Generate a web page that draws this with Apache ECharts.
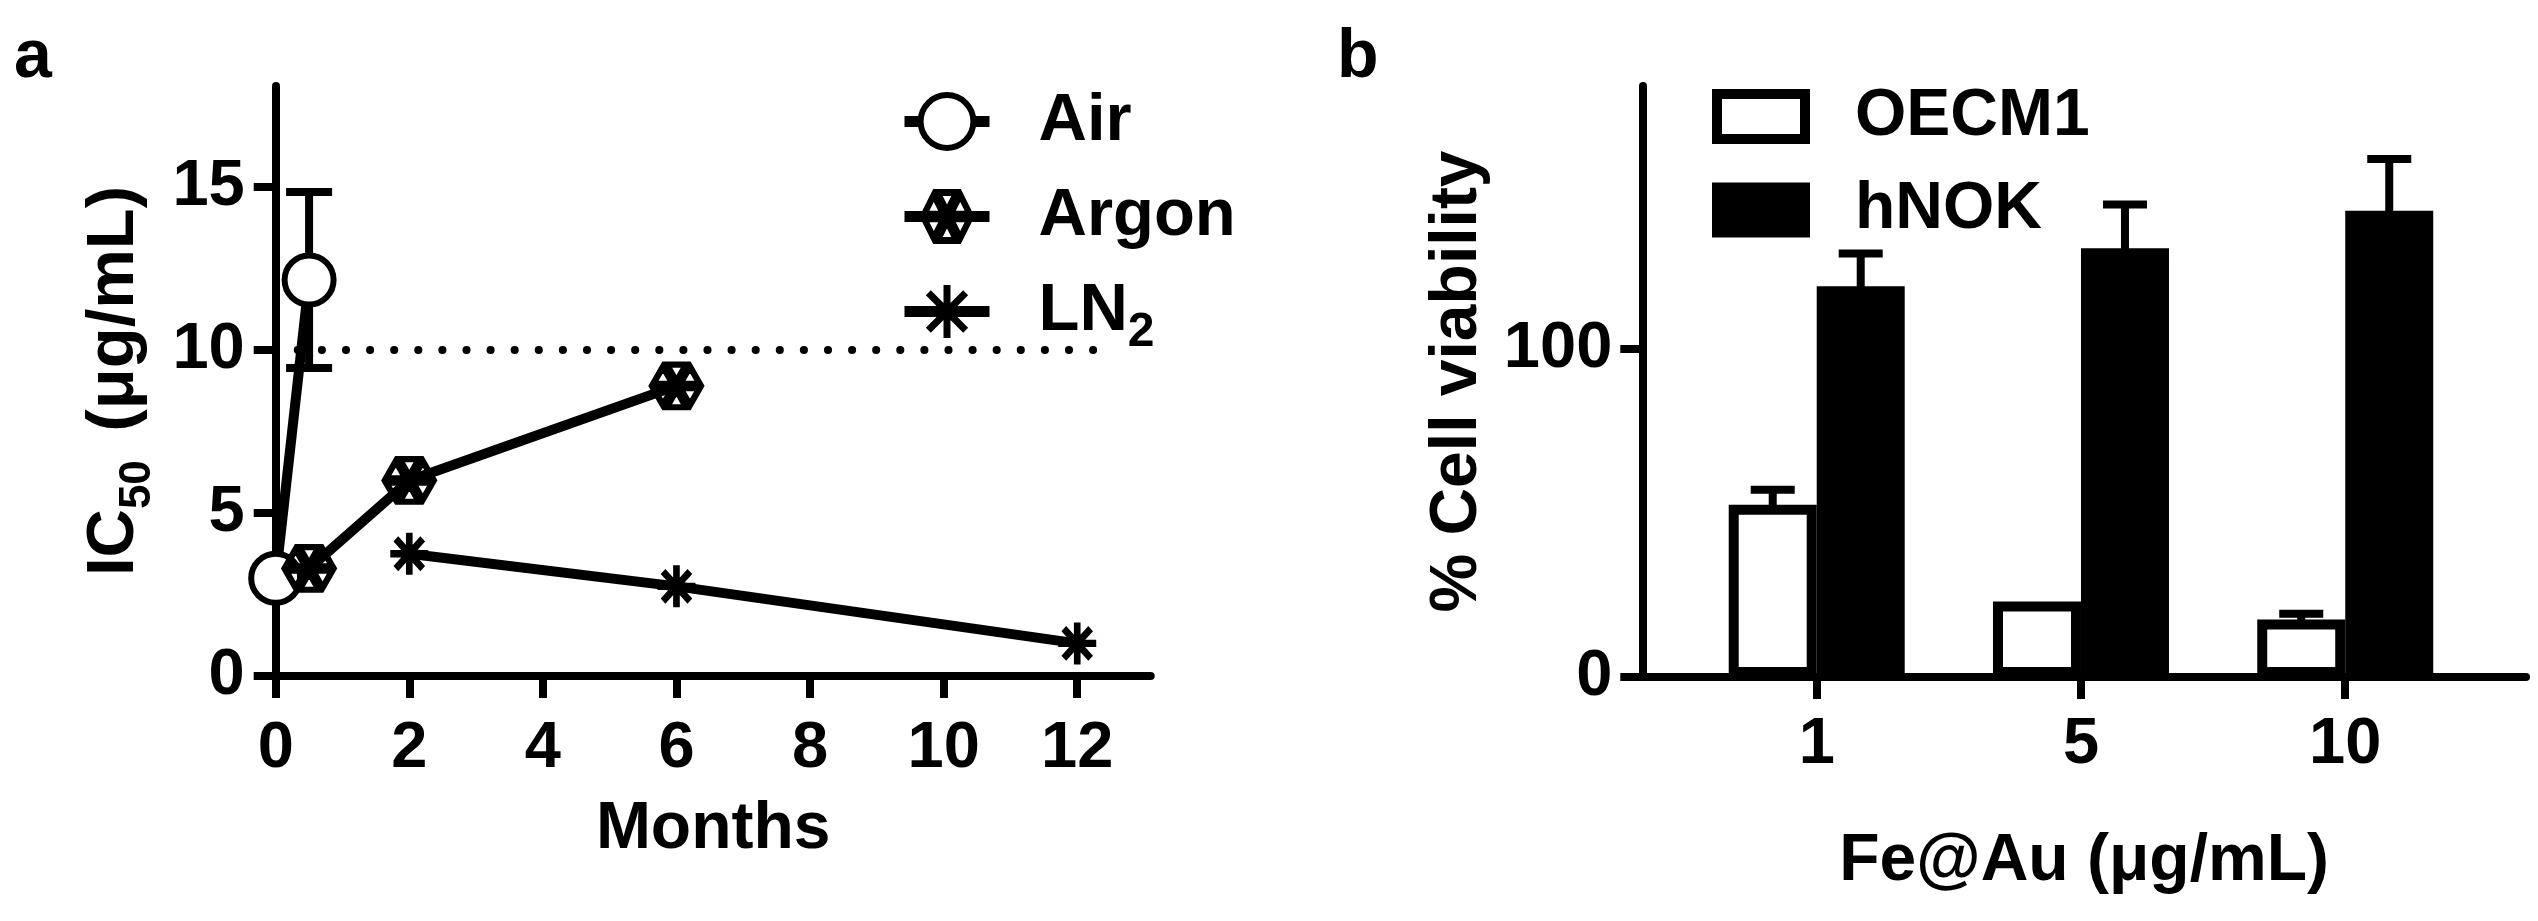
<!DOCTYPE html>
<html>
<head>
<meta charset="utf-8">
<script src="https://cdn.jsdelivr.net/npm/echarts@6.0.0/dist/echarts.min.js"></script>
<style>
html, body { margin: 0; padding: 0; background: #fff; }
#main { width: 2538px; height: 921px; }
</style>
</head>
<body>
<div id="main"></div>
<script>
// panel a - IC50 vs storage time
var airMonths = [0, 0.5];
var airIC50 = [3.0, 12.15];
var airErr = [0, 2.7];
var argonMonths = [0.5, 2, 6];
var argonIC50 = [3.3, 6.0, 8.9];
var ln2Months = [2, 6, 12];
var ln2IC50 = [3.75, 2.75, 1.0];
var thresholdIC50 = 10;
var thresholdSpan = [0.33, 12.57];
var monthTicks = [0, 2, 4, 6, 8, 10, 12];
var ic50Ticks = [0, 5, 10, 15];

// panel b - cell viability
var doses = ['1', '5', '10'];
var oecm1 = [52.5, 23, 17.5];
var oecm1Err = [4.5, 0, 1.8];
var hnok = [119, 130.6, 142];
var hnokErr = [10, 13.3, 15.8];
var viabilityTicks = [0, 100];

var FONT = 'Liberation Sans, Arial, sans-serif';
var BAR_W = 88;
var doseIdx = doses.map(function (d, i) { return i; });

function pairs(xs, ys) {
    return xs.map(function (x, i) { return [x, ys[i]]; });
}
function errRows(xs, ys, es) {
    var out = [];
    xs.forEach(function (x, i) { if (es[i] > 0) out.push([x, ys[i], es[i]]); });
    return out;
}

// hexagon with six small white triangles (Prism style marker)
function hexSymbol() {
    var pts = [], k, d, s = 0.45;
    for (k = 0; k < 6; k++) {
        var a = Math.PI / 3 * k;
        pts.push([10 * Math.cos(a), 10 * Math.sin(a)]);
    }
    function seg(list) {
        return 'M' + list.map(function (p) { return p[0].toFixed(3) + ',' + p[1].toFixed(3); }).join('L') + 'Z';
    }
    d = seg(pts);
    for (k = 0; k < 6; k++) {
        var p1 = pts[k], p2 = pts[(k + 1) % 6];
        var cx = (p1[0] + p2[0]) / 3, cy = (p1[1] + p2[1]) / 3;
        d += seg([[0, 0], p2, p1].map(function (p) {
            return [cx + s * (p[0] - cx), cy + s * (p[1] - cy)];
        }));
    }
    return 'path://' + d;
}
var starSymbol = 'path://M0,-10L0,10M-10,0L10,0M-7.07,-7.07L7.07,7.07M-7.07,7.07L7.07,-7.07';

function errorBar(offset, capHalf) {
    return function (params, api) {
        var x = api.value(0), y = api.value(1), e = api.value(2);
        var hi = api.coord([x, y + e]);
        var lo = api.coord([x, y - e]);
        var cx = hi[0] + offset;
        var st = { stroke: '#000', lineWidth: 8 };
        return {
            type: 'group',
            children: [
                { type: 'line', shape: { x1: cx, y1: hi[1], x2: cx, y2: lo[1] }, style: st },
                { type: 'line', shape: { x1: cx - capHalf, y1: hi[1], x2: cx + capHalf, y2: hi[1] }, style: st },
                { type: 'line', shape: { x1: cx - capHalf, y1: lo[1], x2: cx + capHalf, y2: lo[1] }, style: st }
            ]
        };
    };
}

var axisLine = { show: true, onZero: false, lineStyle: { color: '#000', width: 8 } };
function ticks(vals) {
    return { show: true, inside: false, length: 22, customValues: vals, lineStyle: { color: '#000', width: 8 } };
}
function labels(vals, margin) {
    return { color: '#000', fontSize: 65, fontWeight: 'bold', fontFamily: FONT, margin: margin, customValues: vals };
}
function nameStyle() {
    return { color: '#000', fontSize: 66, fontWeight: 'bold', fontFamily: FONT, lineHeight: 66 };
}

var myChart = echarts.init(document.getElementById('main'));
var doseLabels = labels(doseIdx, 36);
doseLabels.formatter = function (v) { return doses[Math.round(v)]; };

var option = {
    animation: false,
    backgroundColor: '#fff',
    grid: [
        { left: 275.7, top: 86, width: 875, height: 590, outerBoundsMode: 'none' },
        { left: 1642.3, top: 86, width: 883.7, height: 591, outerBoundsMode: 'none' }
    ],
    xAxis: [{
        gridIndex: 0, type: 'value', min: 0, max: 13.1,
        axisLine: axisLine, axisTick: ticks(monthTicks), splitLine: { show: false },
        axisLabel: labels(monthTicks, 41),
        name: 'Months', nameLocation: 'middle', nameGap: 121, nameTextStyle: nameStyle()
    }, {
        gridIndex: 1, type: 'value', min: -0.66, max: 2.684,
        axisLine: axisLine, splitLine: { show: false },
        axisTick: ticks(doseIdx),
        axisLabel: doseLabels,
        name: 'Fe@Au (μg/mL)', nameLocation: 'middle', nameGap: 152, nameTextStyle: nameStyle()
    }],
    yAxis: [{
        gridIndex: 0, type: 'value', min: 0, max: 18.1,
        axisLine: axisLine, axisTick: ticks(ic50Ticks), splitLine: { show: false },
        axisLabel: labels(ic50Ticks, 31),
        name: '{n|IC}{s|50}{n| (μg/mL)}', nameLocation: 'middle', nameRotate: 90, nameGap: 116,
        nameTextStyle: {
            rich: {
                n: { color: '#000', fontSize: 67, fontWeight: 'bold', fontFamily: FONT, lineHeight: 90, verticalAlign: 'middle' },
                s: { color: '#000', fontSize: 44, fontWeight: 'bold', fontFamily: FONT, lineHeight: 14, verticalAlign: 'bottom', padding: [0, 10, 0, 0] }
            }
        }
    }, {
        gridIndex: 1, type: 'value', min: 0, max: 180,
        axisLine: axisLine, axisTick: ticks(viabilityTicks), splitLine: { show: false },
        axisLabel: labels(viabilityTicks, 30),
        name: '% Cell viability', nameLocation: 'middle', nameRotate: 90, nameGap: 152,
        nameTextStyle: nameStyle()
    }],
    legend: [{
        orient: 'vertical', left: 899, top: 88, padding: 0, itemGap: 28,
        itemWidth: 85, itemHeight: 66, selectedMode: false,
        lineStyle: { width: 11 },
        data: [
            { name: 'Air', itemStyle: { borderWidth: 6 } },
            { name: 'Argon', itemStyle: { borderWidth: 2 } },
            { name: 'LN2', itemStyle: { borderWidth: 7 } }
        ],
        formatter: function (n) { return n === 'LN2' ? '{n|LN}{s|2}' : '{n|' + n + '}'; },
        textStyle: {
            padding: [0, 0, 0, 44],
            rich: {
                n: { color: '#000', fontSize: 67, fontWeight: 'bold', fontFamily: FONT, lineHeight: 90, verticalAlign: 'middle' },
                s: { color: '#000', fontSize: 48, fontWeight: 'bold', fontFamily: FONT, lineHeight: 16, verticalAlign: 'bottom' }
            }
        }
    }, {
        orient: 'vertical', left: 1712, top: 83.5, padding: 0, itemGap: 27.5,
        itemWidth: 88, itemHeight: 45, icon: 'rect', selectedMode: false,
        itemStyle: { borderWidth: 10, borderColor: '#000' },
        data: ['OECM1', 'hNOK'],
        textStyle: { color: '#000', fontSize: 66, fontWeight: 'bold', fontFamily: FONT, lineHeight: 66, padding: [0, 0, 0, 45] }
    }],
    graphic: [
        { type: 'text', left: 14, top: 24, style: { text: 'a', fill: '#000', font: 'bold 68px ' + FONT } },
        { type: 'text', left: 1337, top: 24, style: { text: 'b', fill: '#000', font: 'bold 68px ' + FONT } }
    ],
    series: [{
        type: 'custom', name: 'airErr', xAxisIndex: 0, yAxisIndex: 0,
        renderItem: errorBar(0, 23), data: errRows(airMonths, airIC50, airErr)
    }, {
        type: 'line', name: 'Air', xAxisIndex: 0, yAxisIndex: 0, clip: false,
        data: pairs(airMonths, airIC50),
        symbol: 'circle', symbolSize: 49,
        lineStyle: { color: '#000', width: 10 },
        itemStyle: { color: '#fff', borderColor: '#000', borderWidth: 6 },
        markLine: {
            silent: true, symbol: 'none', label: { show: false },
            lineStyle: { color: '#000', width: 8, type: [0.1, 24], cap: 'round' },
            data: [[{ coord: [thresholdSpan[0], thresholdIC50] }, { coord: [thresholdSpan[1], thresholdIC50] }]]
        }
    }, {
        type: 'line', name: 'Argon', xAxisIndex: 0, yAxisIndex: 0, clip: false,
        data: pairs(argonMonths, argonIC50),
        symbol: hexSymbol(), symbolSize: [54, 47],
        lineStyle: { color: '#000', width: 10 },
        itemStyle: { color: '#000', borderColor: '#000', borderWidth: 2 }
    }, {
        type: 'line', name: 'LN2', xAxisIndex: 0, yAxisIndex: 0, clip: false,
        data: pairs(ln2Months, ln2IC50),
        symbol: starSymbol, symbolSize: [38, 42],
        lineStyle: { color: '#000', width: 10 },
        itemStyle: { color: '#000', borderColor: '#000', borderWidth: 7 }
    }, {
        type: 'bar', name: 'OECM1', xAxisIndex: 1, yAxisIndex: 1,
        data: pairs(doseIdx, oecm1), barWidth: BAR_W, barGap: '0%',
        itemStyle: { color: '#fff', borderColor: '#000', borderWidth: 10 }
    }, {
        type: 'bar', name: 'hNOK', xAxisIndex: 1, yAxisIndex: 1,
        data: pairs(doseIdx, hnok), barWidth: BAR_W, barGap: '0%',
        itemStyle: { color: '#000', borderColor: '#000', borderWidth: 10 }
    }, {
        type: 'custom', name: 'oecm1Err', xAxisIndex: 1, yAxisIndex: 1,
        renderItem: errorBar(-BAR_W / 2, 22), data: errRows(doseIdx, oecm1, oecm1Err)
    }, {
        type: 'custom', name: 'hnokErr', xAxisIndex: 1, yAxisIndex: 1,
        renderItem: errorBar(BAR_W / 2, 22), data: errRows(doseIdx, hnok, hnokErr)
    }]
};
myChart.setOption(option);
</script>
</body>
</html>
